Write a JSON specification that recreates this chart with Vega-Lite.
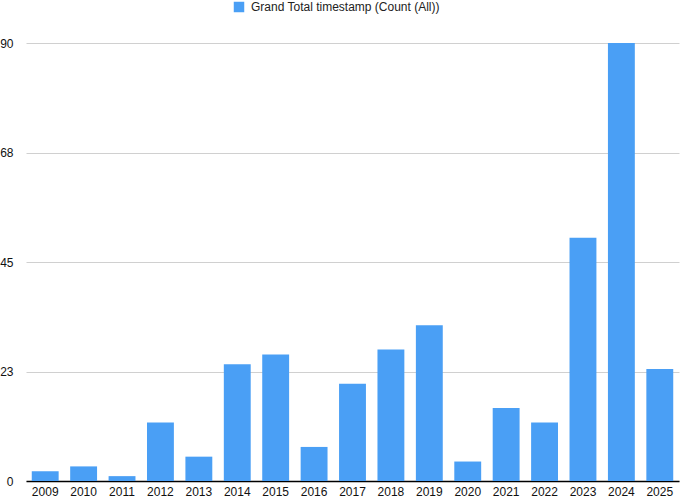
{
  "$schema": "https://vega.github.io/schema/vega-lite/v6.json",
  "autosize": {"type": "none"},
  "width": 653,
  "height": 438,
  "padding": {"left": 26, "top": 43, "right": 2, "bottom": 19},
  "background": "white",
  "config": {
    "view": {"stroke": null},
    "font": "Liberation Sans"
  },
  "data": {
    "values": [
      {"year": "2009", "count": 2, "series": "Grand Total timestamp (Count (All))"},
      {"year": "2010", "count": 3, "series": "Grand Total timestamp (Count (All))"},
      {"year": "2011", "count": 1, "series": "Grand Total timestamp (Count (All))"},
      {"year": "2012", "count": 12, "series": "Grand Total timestamp (Count (All))"},
      {"year": "2013", "count": 5, "series": "Grand Total timestamp (Count (All))"},
      {"year": "2014", "count": 24, "series": "Grand Total timestamp (Count (All))"},
      {"year": "2015", "count": 26, "series": "Grand Total timestamp (Count (All))"},
      {"year": "2016", "count": 7, "series": "Grand Total timestamp (Count (All))"},
      {"year": "2017", "count": 20, "series": "Grand Total timestamp (Count (All))"},
      {"year": "2018", "count": 27, "series": "Grand Total timestamp (Count (All))"},
      {"year": "2019", "count": 32, "series": "Grand Total timestamp (Count (All))"},
      {"year": "2020", "count": 4, "series": "Grand Total timestamp (Count (All))"},
      {"year": "2021", "count": 15, "series": "Grand Total timestamp (Count (All))"},
      {"year": "2022", "count": 12, "series": "Grand Total timestamp (Count (All))"},
      {"year": "2023", "count": 50, "series": "Grand Total timestamp (Count (All))"},
      {"year": "2024", "count": 90, "series": "Grand Total timestamp (Count (All))"},
      {"year": "2025", "count": 23, "series": "Grand Total timestamp (Count (All))"}
    ]
  },
  "mark": {"type": "bar"},
  "encoding": {
    "x": {
      "field": "year",
      "type": "ordinal",
      "title": null,
      "scale": {"paddingInner": 0.3, "paddingOuter": 0.15},
      "axis": {
        "labelAngle": 0,
        "ticks": false,
        "domain": true,
        "domainColor": "#000000",
        "domainWidth": 1.5,
        "labelPadding": 5,
        "labelFontSize": 12,
        "labelColor": "#111111",
        "labelFont": "Liberation Sans"
      }
    },
    "y": {
      "field": "count",
      "type": "quantitative",
      "title": null,
      "scale": {"domain": [0, 90], "nice": false},
      "axis": {
        "values": [0, 22.5, 45, 67.5, 90],
        "labelExpr": "format(datum.value, '.0f')",
        "domain": false,
        "ticks": false,
        "grid": true,
        "gridColor": "#d0d0d0",
        "gridWidth": 1,
        "labelPadding": 13,
        "labelFontSize": 12,
        "labelColor": "#111111",
        "labelFont": "Liberation Sans"
      }
    },
    "color": {
      "field": "series",
      "type": "nominal",
      "scale": {"range": ["#4A9FF5"]},
      "legend": {
        "title": null,
        "orient": "none",
        "legendX": 207,
        "legendY": -42,
        "symbolType": "square",
        "symbolSize": 110,
        "symbolStrokeWidth": 0,
        "labelFontSize": 12,
        "labelLimit": 0,
        "labelColor": "#222222",
        "labelFont": "Liberation Sans",
        "labelOffset": 6
      }
    }
  }
}
